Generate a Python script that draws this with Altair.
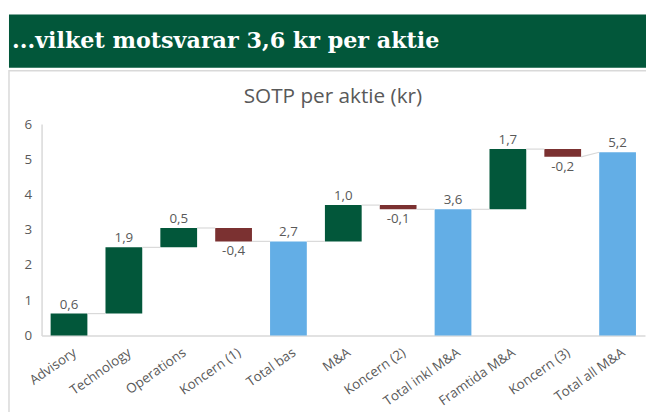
import altair as alt
import pandas as pd

# ---- data ----
categories = ["Advisory", "Technology", "Operations", "Koncern (1)", "Total bas",
              "M&A", "Koncern (2)", "Total inkl M&A", "Framtida M&A", "Koncern (3)",
              "Total all M&A"]
values = [0.6, 1.9, 0.5, -0.4, 2.7, 1.0, -0.1, 3.6, 1.7, -0.2, 5.2]
bar_start = [0.0, 0.62, 2.50, 3.05, 0.0, 2.67, 3.70, 0.0, 3.58, 5.29, 0.0]
bar_end = [0.62, 2.50, 3.05, 2.67, 2.67, 3.70, 3.58, 3.58, 5.29, 5.07, 5.20]
kinds = ["pos", "pos", "pos", "neg", "total", "pos", "neg", "total", "pos", "neg", "total"]
y_ticks = [0, 1, 2, 3, 4, 5, 6]

GREEN = "#02573A"
RED = "#7B3131"
BLUE = "#63AEE6"
GREY = "#595959"
LINE = "#D9D9D9"
FONT = "Open Sans"

df = pd.DataFrame({
    "cat": categories,
    "start": bar_start,
    "end": bar_end,
    "kind": kinds,
    "value": values,
})
df["label"] = [f"{v:.1f}".replace(".", ",") for v in values]
df["top"] = df[["start", "end"]].max(axis=1)
df["bottom"] = df[["start", "end"]].min(axis=1)
df["is_neg"] = df["value"] < 0

conn_rows = []
for i in range(len(categories) - 1):
    nxt_level = bar_end[i + 1] if kinds[i + 1] == "total" else bar_start[i + 1]
    conn_rows.append({"from": categories[i], "to": categories[i + 1],
                      "y1": bar_end[i], "y2": nxt_level})
conn = pd.DataFrame(conn_rows)

xscale = alt.Scale(domain=categories, paddingInner=0.33, paddingOuter=0.165)
yscale = alt.Scale(domain=[0, 6])

x_axis = alt.Axis(labelAngle=325, labelFontSize=13.5, labelFont=FONT,
                  labelColor=GREY, ticks=False, domainColor=LINE, domainWidth=1.5,
                  labelPadding=10, labelOverlap=False, labelOffset=2, title=None)
y_axis = alt.Axis(values=y_ticks, labelFontSize=13.5, labelFont=FONT, labelColor=GREY,
                  ticks=False, grid=False, domainColor=LINE, domainWidth=1.5,
                  labelPadding=10, title=None, labelOverlap=False)

bars = alt.Chart(df).mark_bar().encode(
    x=alt.X("cat:N", scale=xscale, sort=categories, title=None, axis=x_axis),
    y=alt.Y("start:Q", scale=yscale, axis=y_axis, title=None),
    y2="end:Q",
    color=alt.Color("kind:N", scale=alt.Scale(domain=["pos", "neg", "total"],
                                              range=[GREEN, RED, BLUE]), legend=None),
)

connectors = alt.Chart(conn).mark_rule(color=LINE, strokeWidth=1.2).encode(
    x=alt.X("from:N", scale=xscale, sort=categories, bandPosition=1, axis=x_axis, title=None),
    x2=alt.X2("to:N", bandPosition=0),
    y=alt.Y("y1:Q", scale=yscale, axis=y_axis, title=None),
    y2="y2:Q",
)

pos_labels = alt.Chart(df).transform_filter("!datum.is_neg").mark_text(
    baseline="bottom", dy=-2, fontSize=13.5, font=FONT, color=GREY
).encode(
    x=alt.X("cat:N", scale=xscale, sort=categories, axis=x_axis, title=None),
    y=alt.Y("top:Q", scale=yscale, axis=y_axis, title=None),
    text="label:N",
)

neg_labels = alt.Chart(df).transform_filter("datum.is_neg").mark_text(
    baseline="top", dy=3, fontSize=13.5, font=FONT, color=GREY
).encode(
    x=alt.X("cat:N", scale=xscale, sort=categories, axis=x_axis, title=None),
    y=alt.Y("bottom:Q", scale=yscale, axis=y_axis, title=None),
    text="label:N",
)

one = pd.DataFrame({"a": [0]})

header = alt.Chart(one).mark_rect(color=GREEN).encode(
    x=alt.value(-33), x2=alt.value(612), y=alt.value(-111), y2=alt.value(-57)
)
header_text = alt.Chart(one).mark_text(
    align="left", baseline="alphabetic", font="DejaVu Serif", fontSize=22.5,
    fontWeight="bold", color="white"
).encode(x=alt.value(-30), y=alt.value(-77),
         text=alt.value("...vilket motsvarar 3,6 kr per aktie"))

frame = alt.Chart(one).mark_rect(fill=None, stroke=LINE, strokeWidth=1.5).encode(
    x=alt.value(-33), x2=alt.value(640), y=alt.value(-54), y2=alt.value(320)
)

title = alt.Chart(one).mark_text(
    align="center", baseline="alphabetic", font=FONT, fontSize=21, color=GREY
).encode(x=alt.value(295), y=alt.value(-21), text=alt.value("SOTP per aktie (kr)"))

chart = alt.layer(
    bars, connectors, pos_labels, neg_labels, frame, header, header_text, title
).properties(
    width=611, height=214,
    autosize=alt.AutoSizeParams(type="none"),
    padding={"left": 34, "top": 115, "right": 1, "bottom": 75},
).configure_view(stroke=None)

chart.save("out.html", embed_options={"renderer": "svg", "actions": False})
